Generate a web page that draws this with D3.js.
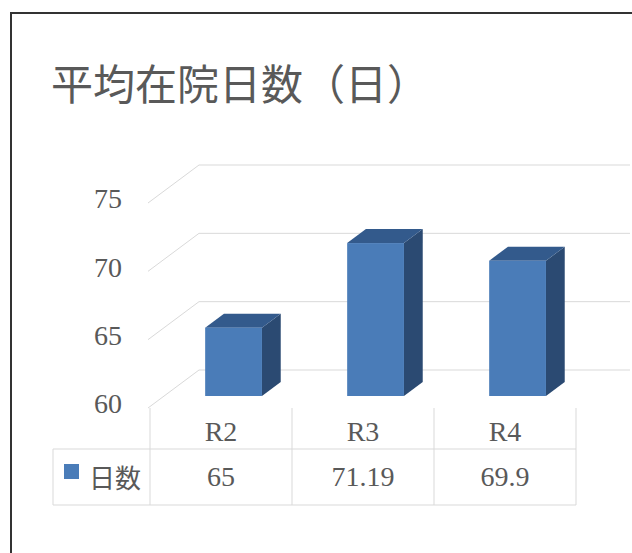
<!DOCTYPE html>
<html><head><meta charset="utf-8">
<script src="https://cdn.jsdelivr.net/npm/d3@7"></script>
<style>html,body{margin:0;padding:0;background:#fff;}svg{display:block;}
.num{font-family:"Liberation Serif","DejaVu Serif","Times New Roman",serif;}
.cjk{font-family:"Noto Sans CJK JP","Noto Sans",sans-serif;}
</style>
</head><body>
<script>
const title = "平均在院日数（日）";
const categories = ["R2", "R3", "R4"];
const seriesName = "日数";
const values = [65, 71.19, 69.9];
const valueLabels = ["65", "71.19", "69.9"];
const yTicks = [60, 65, 70, 75];

const W = 632, H = 553;
const svg = d3.select("body").append("svg").attr("width", W).attr("height", H);
const textCol = "#595959", gridCol = "#d9d9d9";

// border (only left and top visible)
svg.append("rect").attr("x", 11).attr("y", 13).attr("width", 700).attr("height", 700)
  .attr("fill", "none").attr("stroke", "#333").attr("stroke-width", 2);

svg.append("text").attr("class", "cjk").attr("x", 51).attr("y", 100).text(title)
  .style("font-size", "42px").attr("fill", textCol);

const x = d3.scaleBand().domain(categories).range([150, 576]);
const y = d3.scaleLinear().domain([60, 75]).range([408, 203]);
const DX = 51, DY = -38;      // floor depth offset
const f0 = 0.316, f1 = 0.684; // bar depth position
const axisX = 148;

// gridlines (left wall diagonal + back wall)
svg.append("g").selectAll("path").data(yTicks).join("path")
  .attr("d", t => `M${axisX},${y(t)}L${axisX + DX},${y(t) + DY}L630,${y(t) + DY}`)
  .attr("fill", "none").attr("stroke", gridCol).attr("stroke-width", 1);

// y axis labels
const yAxis = svg.append("g").attr("transform", `translate(${axisX},-4)`)
  .call(d3.axisLeft(y).tickValues(yTicks).tickSize(0).tickPadding(26).tickFormat(d3.format("d")));
yAxis.attr("font-family", null).attr("font-size", null);
yAxis.select(".domain").remove();
yAxis.selectAll("text").attr("class", "num").style("font-size", "28px").attr("fill", textCol);

// bars
const bw = x.bandwidth() * 0.4;
const bdx = (f1 - f0) * DX, bdy = (f1 - f0) * DY;
const bars = svg.append("g").selectAll("g").data(categories.map((c, i) => ({c, v: values[i]}))).join("g");
bars.each(function(d) {
  const g = d3.select(this);
  const x0 = x(d.c) + x.bandwidth() * 0.275 + f0 * DX;
  const yt = y(d.v) + f0 * DY, yb = y(60) + f0 * DY;
  g.append("path").attr("d", `M${x0 + bw},${yt}L${x0 + bw + bdx},${yt + bdy}L${x0 + bw + bdx},${yb + bdy}L${x0 + bw},${yb}Z`)
    .attr("fill", "#2b4a72");
  g.append("path").attr("d", `M${x0},${yt}L${x0 + bw},${yt}L${x0 + bw + bdx},${yt + bdy}L${x0 + bdx},${yt + bdy}Z`)
    .attr("fill", "#335a8c");
  g.append("rect").attr("x", x0).attr("y", yt).attr("width", bw).attr("height", yb - yt)
    .attr("fill", "#4a7cb8");
});

// data table
const tTop = 408, tMid = 449, tBot = 505, tLeft = 53;
const tl = svg.append("g").attr("stroke", gridCol).attr("stroke-width", 1);
tl.append("line").attr("x1", tLeft).attr("x2", 576).attr("y1", tMid).attr("y2", tMid);
tl.append("line").attr("x1", tLeft).attr("x2", 576).attr("y1", tBot).attr("y2", tBot);
tl.append("line").attr("x1", tLeft).attr("x2", tLeft).attr("y1", tMid).attr("y2", tBot);
const seps = categories.map(c => x(c)).concat([x.range()[1]]);
tl.selectAll(".sep").data(seps).join("line").attr("class", "sep")
  .attr("x1", d => d).attr("x2", d => d).attr("y1", tTop).attr("y2", tBot);

svg.append("g").selectAll("text").data(categories).join("text").attr("class", "num")
  .attr("x", d => x(d) + x.bandwidth() / 2).attr("y", (tTop + tMid) / 2 + 3)
  .attr("text-anchor", "middle").attr("dominant-baseline", "central")
  .style("font-size", "28px").attr("fill", textCol).text(d => d);

svg.append("g").selectAll("text").data(valueLabels).join("text").attr("class", "num")
  .attr("x", (d, i) => x(categories[i]) + x.bandwidth() / 2).attr("y", (tMid + tBot) / 2 - 1)
  .attr("text-anchor", "middle").attr("dominant-baseline", "central")
  .style("font-size", "28px").attr("fill", textCol).text(d => d);

svg.append("rect").attr("x", 64).attr("y", 464).attr("width", 15).attr("height", 15).attr("fill", "#4a7cb8");
svg.append("text").attr("class", "cjk").attr("x", 89).attr("y", (tMid + tBot) / 2 - 1).attr("dominant-baseline", "central")
  .style("font-size", "26px").attr("fill", textCol).text(seriesName);
</script>
</body></html>
